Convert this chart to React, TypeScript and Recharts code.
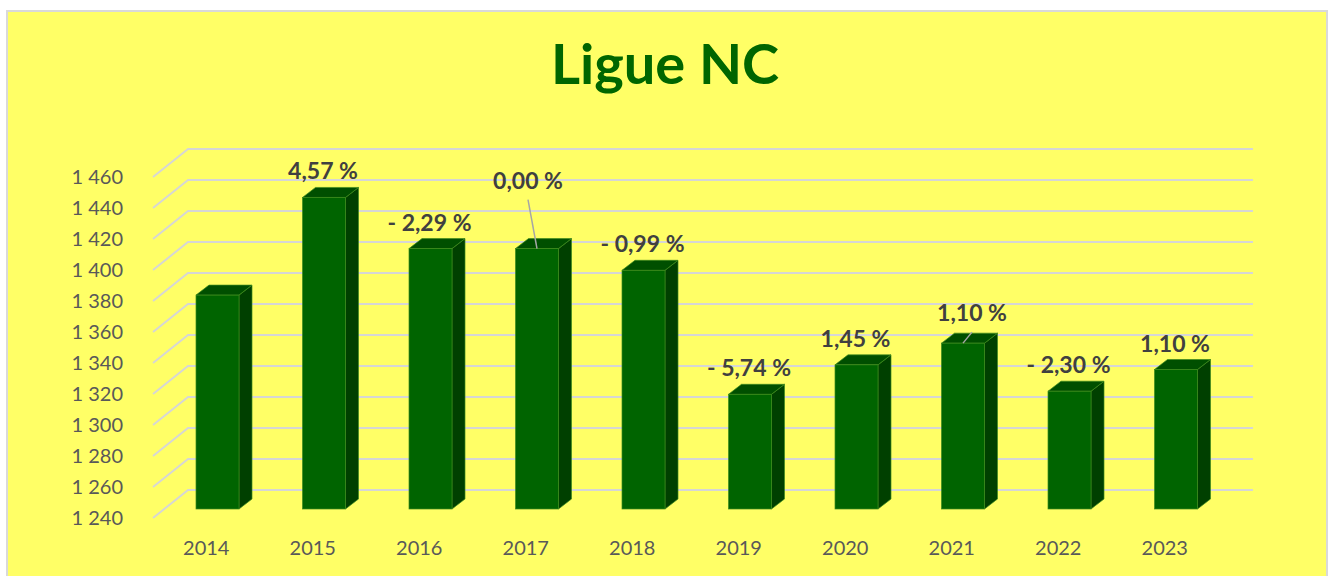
import { BarChart, Bar, XAxis, YAxis, CartesianGrid } from "recharts";

// ---------------------------------------------------------------------------
// Data
// ---------------------------------------------------------------------------
const years = ["2014", "2015", "2016", "2017", "2018", "2019", "2020", "2021", "2022", "2023"];
const members = [1378, 1441, 1408, 1408, 1394, 1314, 1333, 1347, 1316, 1330];
const changeLabels = ["", "4,57 %", "- 2,29 %", "0,00 %", "- 0,99 %", "- 5,74 %", "1,45 %", "1,10 %", "- 2,30 %", "1,10 %"];
const yTicks = [1240, 1260, 1280, 1300, 1320, 1340, 1360, 1380, 1400, 1420, 1440, 1460];

// labels Excel moved by hand (drawn with a leader line)
const labelNudge: Record<string, [number, number]> = {
  "2017": [-8, -42],
  "2021": [10, -4],
};

// ---------------------------------------------------------------------------
// Look
// ---------------------------------------------------------------------------
const FONT = "Lato, 'Open Sans', sans-serif";
const YELLOW = "#FFFF66";
const GRID = "#d6d6d6";
const FRONT = "#006400";
const SIDE = "#004000";
const TOP = "#004f00";
const EDGE = "#3c8a1e";

// oblique "3D" offsets: depth of the bar
const DEPTH_X = 13;
const DEPTH_Y = 10;

const data = years.map((year, i) => ({ year, members: members[i], change: changeLabels[i] }));

function fmtThousands(v: number) {
  return `${Math.floor(v / 1000)} ${String(v % 1000).padStart(3, "0")}`;
}

// back wall line + the diagonal on the left side wall
function GridLine(props: any) {
  const { x1, x2, y1 } = props;
  const d = `M${x1 - 11},${y1 + 9} L${x1 + 24},${y1 - 19} L${x2 + 24},${y1 - 19}`;
  return <path d={d} stroke={GRID} strokeWidth={2} fill="none" />;
}

function YTick(props: any) {
  const { x, y, payload } = props;
  return (
    <text x={x} y={y + 16} textAnchor="end" fontFamily={FONT} fontSize={20} fill="#595959">
      {fmtThousands(payload.value)}
    </text>
  );
}

function XTick(props: any) {
  const { x, y, payload } = props;
  return (
    <text x={x - 11} y={y + 46} textAnchor="middle" fontFamily={FONT} fontSize={20} fill="#595959">
      {payload.value}
    </text>
  );
}

function Bar3D(props: any) {
  const { x, y, width: w, height: h, payload } = props;
  const dx = DEPTH_X;
  const dy = DEPTH_Y;
  const cx = x + w / 2;
  const nudge = labelNudge[payload.year];
  const lx = cx - 1 + (nudge ? nudge[0] : 0);
  const ly = y - 26 + (nudge ? nudge[1] : 0);
  return (
    <g>
      <polygon
        points={`${x + w},${y} ${x + w + dx},${y - dy} ${x + w + dx},${y + h - dy} ${x + w},${y + h}`}
        fill={SIDE}
        stroke={EDGE}
        strokeWidth={0.7}
      />
      <polygon
        points={`${x},${y} ${x + dx},${y - dy} ${x + w + dx},${y - dy} ${x + w},${y}`}
        fill={TOP}
        stroke={EDGE}
        strokeWidth={0.7}
      />
      <rect x={x} y={y} width={w} height={h} fill={FRONT} stroke={EDGE} strokeWidth={0.7} />
      {nudge && (
        <line x1={lx} y1={ly + 19} x2={cx} y2={y} stroke="#a6a6a6" strokeWidth={1.5} />
      )}
      {payload.change && (
        <text
          x={lx}
          y={ly + 8}
          textAnchor="middle"
          fontFamily={FONT}
          fontWeight={700}
          fontSize={23}
          fill="#404040"
        >
          {payload.change}
        </text>
      )}
    </g>
  );
}

export default function App() {
  return (
    <div style={{ position: "absolute", left: 0, top: 0, width: 1336, height: 576, overflow: "hidden" }}>
      <div
        style={{
          position: "absolute",
          left: 6,
          top: 10,
          width: 1322,
          height: 600,
          background: YELLOW,
          border: "2px solid #d9d9d9",
          boxSizing: "border-box",
        }}
      />
      <div
        style={{
          position: "absolute",
          left: 465,
          top: 35,
          width: 400,
          textAlign: "center",
          fontFamily: FONT,
          fontWeight: 700,
          fontSize: 56,
          lineHeight: "56px",
          color: "#006600",
        }}
      >
        Ligue NC
      </div>
      <div style={{ position: "absolute", left: 0, top: 0 }}>
        <BarChart
          width={1336}
          height={576}
          data={data}
          margin={{ top: 168, right: 107, left: 64, bottom: 27 }}
          barSize={43}
        >
          <CartesianGrid vertical={false} horizontal={(p: any) => <GridLine key={p.key} {...p} />} />
          <XAxis
            dataKey="year"
            axisLine={false}
            tickLine={false}
            tickSize={0}
            tickMargin={0}
            height={40}
            interval={0}
            tick={<XTick />}
          />
          <YAxis
            domain={[1240, 1460]}
            ticks={yTicks}
            axisLine={false}
            tickLine={false}
            tickSize={0}
            tickMargin={41}
            width={100}
            interval={0}
            tick={<YTick />}
          />
          <Bar dataKey="members" shape={<Bar3D />} isAnimationActive={false} />
        </BarChart>
      </div>
    </div>
  );
}
